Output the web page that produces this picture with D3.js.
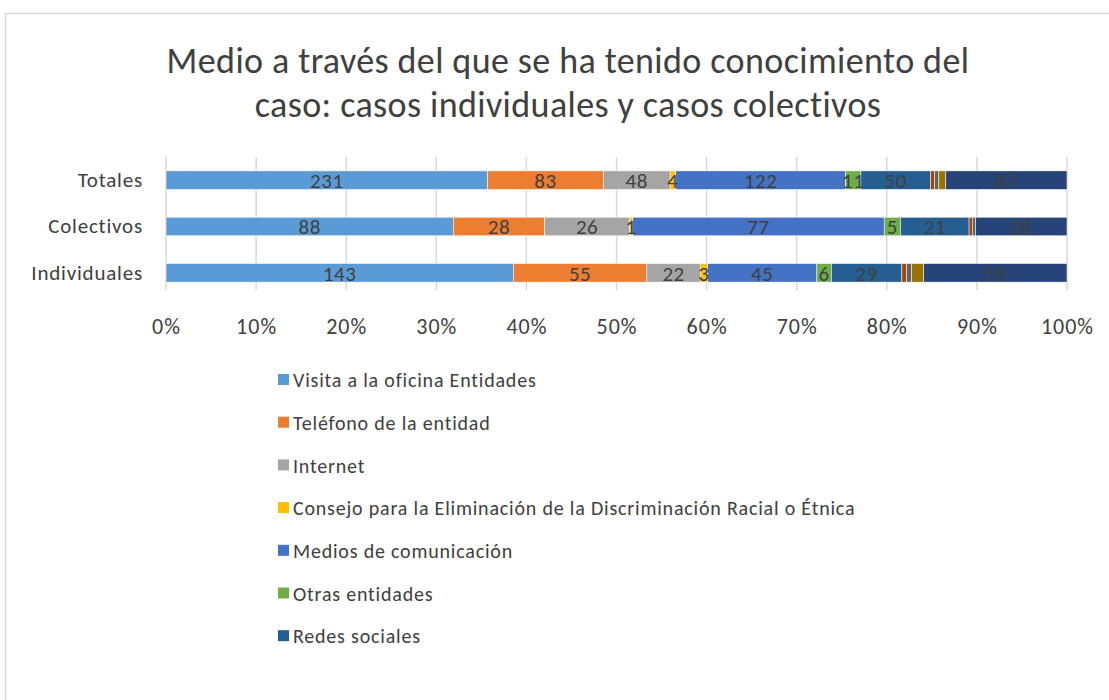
<!DOCTYPE html>
<html lang="es">
<head>
    <meta charset="UTF-8">
    <script src="https://cdn.jsdelivr.net/npm/d3@7"></script>
    <title>Medio a través del que se ha tenido conocimiento del caso</title>
    <style>
        html,
        body {
            margin: 0px;
            padding: 0px;
            background-color: #ffffff;
            font-family: Carlito, Calibri, Lato, sans-serif;
        }
    </style>
</head>
<body>
    <div id="chart"></div>

    <script>
        // categories, top to bottom
        let categories = ['Totales', 'Colectivos', 'Individuales'];

        let seriesNames = [
            'Visita a la oficina Entidades',
            'Teléfono de la entidad',
            'Internet',
            'Consejo para la Eliminación de la Discriminación Racial o Étnica',
            'Medios de comunicación',
            'Otras entidades',
            'Redes sociales',
            'Otros 1',
            'Otros 2',
            'Otros 3',
            'Otros 4'
        ];
        let colors = ['#5b9bd5', '#ed7d31', '#a5a5a5', '#ffc000', '#4472c4', '#70ad47',
                      '#255e91', '#9e480e', '#636363', '#997300', '#264478'];

        // one value per category (Totales, Colectivos, Individuales)
        let visita   = [231, 88, 143];
        let telefono = [83, 28, 55];
        let internet = [48, 26, 22];
        let consejo  = [4, 1, 3];
        let medios   = [122, 77, 45];
        let otras    = [11, 5, 6];
        let redes    = [50, 21, 29];
        let otros1   = [3, 1, 2];
        let otros2   = [3, 1, 2];
        let otros3   = [5, 0, 5];
        let otros4   = [87, 28, 59];

        let values = [visita, telefono, internet, consejo, medios, otras, redes, otros1, otros2, otros3, otros4];
        let labelled = [true, true, true, true, true, true, true, false, false, false, true];
        let legendCount = 7; // the legend is cut off below the 7th entry

        let ticks = [0, 0.1, 0.2, 0.3, 0.4, 0.5, 0.6, 0.7, 0.8, 0.9, 1];

        let width = 1109;
        let height = 700;
        let plot = { left: 166, right: 1067, top: 157, bottom: 296 };

        let svg = d3.select('#chart').append('svg')
            .attr('width', width)
            .attr('height', height);

        // chart frame (cropped on the right and bottom)
        svg.append('rect')
            .attr('x', 5.5).attr('y', 13.5)
            .attr('width', 1200).attr('height', 800)
            .attr('fill', 'none')
            .attr('stroke', '#d9d9d9')
            .attr('stroke-width', 1.5);

        // title
        let title = svg.append('text')
            .attr('text-anchor', 'middle')
            .attr('fill', '#404040')
            .style('font-size', '36px')
            .style('letter-spacing', '0.4px');
        title.append('tspan').attr('x', 568).attr('y', 73)
            .text('Medio a través del que se ha tenido conocimiento del');
        title.append('tspan').attr('x', 568).attr('y', 117)
            .text('caso: casos individuales y casos colectivos');

        let x = d3.scaleLinear().domain([0, 1]).range([plot.left, plot.right]);
        let y = d3.scaleBand().domain(categories).range([plot.top, plot.bottom]).paddingInner(0.6).paddingOuter(0.3);

        // gridlines
        svg.append('g')
            .selectAll('line')
            .data(ticks)
            .join('line')
            .attr('x1', d => x(d)).attr('x2', d => x(d))
            .attr('y1', plot.top).attr('y2', plot.bottom - 6)
            .attr('stroke', '#d9d9d9')
            .attr('stroke-width', 1.5);

        // stacked percentages
        let totals = categories.map((c, i) => d3.sum(values, s => s[i]));
        let segments = [];
        categories.forEach((c, i) => {
            let acc = 0;
            values.forEach((s, k) => {
                let v = s[i];
                segments.push({ cat: c, k: k, v: v, x0: acc / totals[i], x1: (acc + v) / totals[i] });
                acc += v;
            });
        });

        svg.append('g')
            .selectAll('rect')
            .data(segments.filter(d => d.v > 0))
            .join('rect')
            .attr('x', d => x(d.x0))
            .attr('width', d => x(d.x1) - x(d.x0))
            .attr('y', d => y(d.cat))
            .attr('height', y.bandwidth())
            .attr('fill', d => colors[d.k])
            .attr('stroke', '#ffffff')
            .attr('stroke-width', 0.5);

        svg.append('g')
            .selectAll('text')
            .data(segments.filter(d => d.v > 0 && labelled[d.k]))
            .join('text')
            .attr('x', d => (x(d.x0) + x(d.x1)) / 2)
            .attr('y', d => y(d.cat) + y.bandwidth() / 2)
            .attr('dy', '0.37em')
            .attr('text-anchor', 'middle')
            .attr('fill', '#404040')
            .style('font-size', '21px')
            .style('letter-spacing', '0.5px')
            .text(d => d.v);

        // category labels
        let yAxis = svg.append('g')
            .attr('transform', `translate(${plot.left}, 0)`)
            .call(d3.axisLeft(y).tickSize(0).tickPadding(23));
        yAxis.select('.domain').remove();
        yAxis.selectAll('text')
            .attr('fill', '#404040')
            .style('font-size', '21px')
            .style('letter-spacing', '0.8px')
            .style('font-family', 'Carlito, Calibri, Lato, sans-serif');

        // percentage axis
        let xAxis = svg.append('g')
            .attr('transform', `translate(0, ${plot.bottom})`)
            .call(d3.axisBottom(x).tickValues(ticks).tickFormat(d3.format('.0%')).tickSize(0).tickPadding(22));
        xAxis.select('.domain').remove();
        xAxis.selectAll('text')
            .attr('fill', '#404040')
            .style('font-size', '22px')
            .style('letter-spacing', '1px')
            .style('font-family', 'Carlito, Calibri, Lato, sans-serif');

        // legend
        let legend = svg.append('g')
            .selectAll('g')
            .data(seriesNames.slice(0, legendCount))
            .join('g')
            .attr('transform', (d, i) => `translate(278, ${380 + i * 42.7})`);
        legend.append('rect')
            .attr('x', 0).attr('y', -6)
            .attr('width', 11).attr('height', 11)
            .attr('fill', (d, i) => colors[i]);
        legend.append('text')
            .attr('x', 15)
            .attr('dy', '0.36em')
            .attr('fill', '#404040')
            .style('font-size', '20px')
            .style('letter-spacing', '0.8px')
            .text(d => d);
    </script>
</body>
</html>
